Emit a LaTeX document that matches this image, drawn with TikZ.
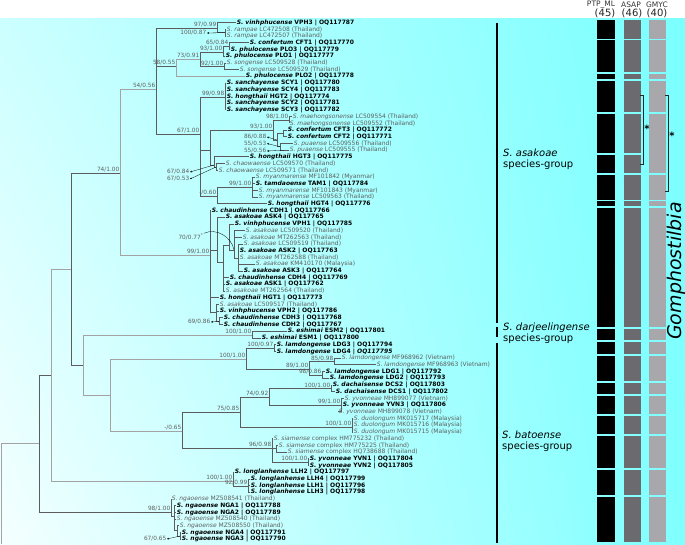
\documentclass[tikz,border=0pt]{standalone}
\usepackage{fontspec}
\setmainfont{DejaVu Sans}
\usetikzlibrary{arrows.meta,shadings}
\definecolor{brdark}{HTML}{5C5C5C}
\definecolor{brlight}{HTML}{A3A3A3}
\definecolor{gbtext}{HTML}{5E5E5E}
\definecolor{ptpcol}{HTML}{000000}
\definecolor{asapcol}{HTML}{6B6B6F}
\definecolor{gmyccol}{HTML}{A8A8AC}

\begin{document}
\begin{tikzpicture}[
    x=1pt, y=-1pt,
    br/.style={draw=brdark, line width=0.9pt},
    lbr/.style={draw=brlight, line width=0.9pt},
    newseq/.style={anchor=west, inner sep=0.6pt, font=\fontsize{6}{7}\selectfont\bfseries, text=black},
    gbank/.style={anchor=west, inner sep=0.6pt, font=\fontsize{6}{7}\selectfont, text=gbtext},
    supp/.style={anchor=south east, inner sep=0.5pt, font=\fontsize{5.8}{6.5}\selectfont, text=gbtext},
    ptr/.style={draw=black, line width=0.3pt, -{Stealth[length=2pt,width=1.8pt]}},
    grp/.style={anchor=west, align=left, inner sep=0pt, font=\fontsize{10}{10.5}\selectfont},
    cbar/.style={draw=black, line width=1.3pt},
    hdr/.style={font=\fontsize{7.5}{8}\selectfont, text=black!80, inner sep=0pt},
    hnum/.style={font=\fontsize{10}{10}\selectfont, text=black!85, inner sep=0pt},
    brk/.style={draw=black!85, line width=0.8pt},
  ]
  \useasboundingbox (0,0) rectangle (685,544);
  \fill[white] (0,0) rectangle (685,18);
  \shade[upper left=cyan!20, upper right=cyan!52, lower left=cyan!4, lower right=cyan!50] (0,18) rectangle (685,544);

  % ------------------------------------------------------------------ header
  \node[hdr] (hptp) at (601,5) {PTP\_ML};
  \node[hdr] (hasap) at (631,5) {ASAP};
  \node[hdr] (hgmyc) at (657,5) {GMYC};
  \node[hnum] (cptp) at (605,13.5) {(45)};
  \node[hnum] (casap) at (632,13.5) {(46)};
  \node[hnum] (cgmyc) at (657,13.5) {(40)};

  % ------------------------------------------------------------------ leaves
  \node[newseq] (l1) at (236,22.7) {\textit{S. vinhphucense} VPH3 | OQ117787};
  \node[gbank] (l2) at (226,29.4) {\textit{S. rampae} LC472508 (Thailand)};
  \node[gbank] (l3) at (226,36.1) {\textit{S. rampae} LC472507 (Thailand)};
  \node[newseq] (l4) at (249,42.8) {\textit{S. confertum} CFT1 | OQ117770};
  \node[newseq] (l5) at (230,49.5) {\textit{S. phulocense} PLO3 | OQ117779};
  \node[newseq] (l6) at (225,56.3) {\textit{S. phulocense} PLO1 | OQ117777};
  \node[gbank] (l7) at (226,63.0) {\textit{S. songense} LC509528 (Thailand)};
  \node[gbank] (l8) at (239,69.7) {\textit{S. songense} LC509529 (Thailand)};
  \node[newseq] (l9) at (245,76.4) {\textit{S. phulocense} PLO2 | OQ117778};
  \node[newseq] (l10) at (226,83.1) {\textit{S. sanchayense} SCY1 | OQ117780};
  \node[newseq] (l11) at (226,89.8) {\textit{S. sanchayense} SCY4 | OQ117783};
  \node[newseq] (l12) at (226,96.5) {\textit{S. hongthaii} HGT2 | OQ117774};
  \node[newseq] (l13) at (226,103.2) {\textit{S. sanchayense} SCY2 | OQ117781};
  \node[newseq] (l14) at (226,109.9) {\textit{S. sanchayense} SCY3 | OQ117782};
  \node[gbank] (l15) at (292,116.6) {\textit{S. maehongsonense} LC509554 (Thailand)};
  \node[gbank] (l16) at (289,123.4) {\textit{S. maehongsonense} LC509552 (Thailand)};
  \node[newseq] (l17) at (287,130.1) {\textit{S. confertum} CFT3 | OQ117772};
  \node[newseq] (l18) at (287,136.8) {\textit{S. confertum} CFT2 | OQ117771};
  \node[gbank] (l19) at (293,143.5) {\textit{S. puaense} LC509556 (Thailand)};
  \node[gbank] (l20) at (289,150.2) {\textit{S. puaense} LC509555 (Thailand)};
  \node[newseq] (l21) at (249,156.9) {\textit{S. hongthaii} HGT3 | OQ117775};
  \node[gbank] (l22) at (225,163.6) {\textit{S. chaowaense} LC509570 (Thailand)};
  \node[gbank] (l23) at (218,170.3) {\textit{S. chaowaense} LC509571 (Thailand)};
  \node[gbank] (l24) at (255,177.0) {\textit{S. myanmarense} MF101842 (Myanmar)};
  \node[newseq] (l25) at (255,183.7) {\textit{S. tamdaoense} TAM1 | OQ117784};
  \node[gbank] (l26) at (258,190.5) {\textit{S. myanmarense} MF101843 (Myanmar)};
  \node[gbank] (l27) at (258,197.2) {\textit{S. myanmarense} LC509563 (Thailand)};
  \node[newseq] (l28) at (267,203.9) {\textit{S. hongthaii} HGT4 | OQ117776};
  \node[newseq] (l29) at (211,210.6) {\textit{S. chaudinhense} CDH1 | OQ117766};
  \node[newseq] (l30) at (225,217.3) {\textit{S. asakoae} ASK4 | OQ117765};
  \node[newseq] (l31) at (234,224.0) {\textit{S. vinhphucense} VPH1 | OQ117785};
  \node[gbank] (l32) at (245,230.7) {\textit{S. asakoae} LC509520 (Thailand)};
  \node[gbank] (l33) at (242,237.4) {\textit{S. asakoae} MT262563 (Thailand)};
  \node[gbank] (l34) at (243,244.1) {\textit{S. asakoae} LC509519 (Thailand)};
  \node[newseq] (l35) at (239,250.8) {\textit{S. asakoae} ASK2 | OQ117763};
  \node[gbank] (l36) at (239,257.6) {\textit{S. asakoae} MT262588 (Thailand)};
  \node[gbank] (l37) at (255,264.3) {\textit{S. asakoae} KM410170 (Malaysia)};
  \node[newseq] (l38) at (243,271.0) {\textit{S. asakoae} ASK3 | OQ117764};
  \node[newseq] (l39) at (229,277.7) {\textit{S. chaudinhense} CDH4 | OQ117769};
  \node[newseq] (l40) at (225,284.4) {\textit{S. asakoae} ASK1 | OQ117762};
  \node[gbank] (l41) at (225,291.1) {\textit{S. asakoae} MT262564 (Thailand)};
  \node[newseq] (l42) at (219,297.8) {\textit{S. hongthaii} HGT1 | OQ117773};
  \node[gbank] (l43) at (219,304.5) {\textit{S. asakoae} LC509517 (Thailand)};
  \node[newseq] (l44) at (219,311.2) {\textit{S. vinhphucense} VPH2 | OQ117786};
  \node[newseq] (l45) at (223,317.9) {\textit{S. chaudinhense} CDH3 | OQ117768};
  \node[newseq] (l46) at (223,324.7) {\textit{S. chaudinhense} CDH2 | OQ117767};
  \node[newseq] (l47) at (287,331.4) {\textit{S. eshimai} ESM2 | OQ117801};
  \node[newseq] (l48) at (261,338.1) {\textit{S. eshimai} ESM1 | OQ117800};
  \node[newseq] (l49) at (276,344.8) {\textit{S. lamdongense} LDG3 | OQ117794};
  \node[newseq] (l50) at (276,351.5) {\textit{S. lamdongense} LDG4 | \textit{OQ117795}};
  \node[gbank] (l51) at (341,358.2) {\textit{S. lamdongense} MF968962 (Vietnam)};
  \node[gbank] (l52) at (376,364.9) {\textit{S. lamdongense} MF968963 (Vietnam)};
  \node[newseq] (l53) at (325,371.6) {\textit{S. lamdongense} LDG1 | OQ117792};
  \node[newseq] (l54) at (329,378.3) {\textit{S. lamdongense} LDG2 | OQ117793};
  \node[newseq] (l55) at (332,385.0) {\textit{S. dachaisense} DCS2 | OQ117803};
  \node[newseq] (l56) at (335,391.8) {\textit{S. dachaisense} DCS1 | OQ117802};
  \node[gbank] (l57) at (344,398.5) {\textit{S. yvonneae} MH899077 (Vietnam)};
  \node[newseq] (l58) at (342,405.2) {\textit{S. yvonneae} YVN3 | OQ117806};
  \node[gbank] (l59) at (338,411.9) {\textit{S. yvonneae} MH899078 (Vietnam)};
  \node[gbank] (l60) at (353,418.6) {\textit{S. duolongum} MK015717 (Malaysia)};
  \node[gbank] (l61) at (353,425.3) {\textit{S. duolongum} MK015716 (Malaysia)};
  \node[gbank] (l62) at (353,432.0) {\textit{S. duolongum} MK015715 (Malaysia)};
  \node[gbank] (l63) at (273,438.7) {\textit{S. siamense} complex HM775232 (Thailand)};
  \node[gbank] (l64) at (278,445.4) {\textit{S. siamense} complex HM775225 (Thailand)};
  \node[gbank] (l65) at (287,452.1) {\textit{S. siamense} complex HQ738688 (Thailand)};
  \node[newseq] (l66) at (309,458.9) {\textit{S. yvonneae} YVN1 | OQ117804};
  \node[newseq] (l67) at (309,465.6) {\textit{S. yvonneae} YVN2 | OQ117805};
  \node[newseq] (l68) at (234,472.3) {\textit{S. longlanhense} LLH2 | OQ117797};
  \node[newseq] (l69) at (250,479.0) {\textit{S. longlanhense} LLH4 | OQ117799};
  \node[newseq] (l70) at (250,485.7) {\textit{S. longlanhense} LLH1 | OQ117796};
  \node[newseq] (l71) at (250,492.4) {\textit{S. longlanhense} LLH3 | OQ117798};
  \node[gbank] (l72) at (171,499.1) {\textit{S. ngaoense} MZ508541 (Thailand)};
  \node[newseq] (l73) at (176,505.8) {\textit{S. ngaoense} NGA1 | OQ117788};
  \node[newseq] (l74) at (176,512.5) {\textit{S. ngaoense} NGA2 | OQ117789};
  \node[gbank] (l75) at (176,519.2) {\textit{S. ngaoense} MZ508540 (Thailand)};
  \node[gbank] (l76) at (179,525.9) {\textit{S. ngaoense} MZ508550 (Thailand)};
  \node[newseq] (l77) at (181,532.7) {\textit{S. ngaoense} NGA4 | OQ117791};
  \node[newseq] (l78) at (181,539.4) {\textit{S. ngaoense} NGA3 | OQ117790};

  % ------------------------------------------------------------ inner nodes
  \coordinate (root) at (1,443);
  \coordinate (rootend) at (1,544);
  \coordinate (nA) at (39,443);
  \coordinate (nB) at (51,375);
  \coordinate (nC) at (71,269);
  \coordinate (nD) at (120,173);
  \coordinate (nE) at (83,365);
  \coordinate (nF) at (156,89);
  \coordinate (nG) at (210,255);
  \coordinate (nF1) at (217,28);
  \coordinate (nRam) at (225,32.7);
  \coordinate (nF2) at (176,66);
  \coordinate (nF2a) at (200,59);
  \coordinate (nF2b) at (223,52);
  \coordinate (nF2d) at (229,46);
  \coordinate (nF2c) at (224,66.3);
  \coordinate (nF3) at (200,134);
  \coordinate (nF3a) at (225,97);
  \coordinate (nF3b) at (210,150);
  \coordinate (n93) at (273,130);
  \coordinate (nMae) at (289,120);
  \coordinate (n86) at (277,140);
  \coordinate (nCFT) at (283,133.5);
  \coordinate (n55) at (280,146.8);
  \coordinate (n84) at (214,165);
  \coordinate (n53) at (216,167);
  \coordinate (nMy) at (217,196);
  \coordinate (n99my) at (252,187);
  \coordinate (g1) at (217,250);
  \coordinate (g2) at (223,262);
  \coordinate (g3) at (229,245);
  \coordinate (g4) at (234,250);
  \coordinate (g5) at (238,258);
  \coordinate (g9) at (216,312);
  \coordinate (g10) at (219,321.3);
  \coordinate (nESM) at (252,335);
  \coordinate (nH) at (110,395);
  \coordinate (nI) at (246,359);
  \coordinate (nL34) at (274,348);
  \coordinate (nO) at (309,369);
  \coordinate (nP) at (334,361.5);
  \coordinate (nQ) at (322,375);
  \coordinate (nJ) at (182,431);
  \coordinate (nK) at (240,412);
  \coordinate (nL) at (269,397);
  \coordinate (nDCS) at (331,388.4);
  \coordinate (nYV) at (341,405);
  \coordinate (nDuo) at (352,427);
  \coordinate (nM) at (272,448);
  \coordinate (nN) at (276,448.7);
  \coordinate (nYVN) at (308,462.2);
  \coordinate (nLLH) at (233,481);
  \coordinate (nLLHi) at (248,486);
  \coordinate (nNGA) at (171,512);
  \coordinate (nNGAi) at (174,516);
  \coordinate (nNGAj) at (177,530);
  \coordinate (nNGAk) at (180,536);

  % ---------------------------------------------------------------- branches
  \draw[lbr] (root) -- (nA);
  \draw[lbr] (root) -- (rootend);
  \foreach \c in {nB,nNGA} \draw[br] (nA) |- (\c);
  \foreach \c in {nC,nLLH} \draw[lbr] (nB) |- (\c);
  \foreach \c in {nD,nE} \draw[br] (nC) |- (\c);
  \foreach \c in {nF,nG} \draw[lbr] (nD) |- (\c);
  \foreach \c in {nF1,nF2,nF3} \draw[br] (nF) |- (\c);
  \foreach \c in {l1.west,nRam} \draw[br] (nF1) |- (\c);
  \foreach \c in {l2.west,l3.west} \draw[br] (nRam) |- (\c);
  \foreach \c in {nF2a,l9.west} \draw[lbr] (nF2) |- (\c);
  \foreach \c in {nF2b,nF2c} \draw[br] (nF2a) |- (\c);
  \foreach \c in {nF2d,l6.west} \draw[br] (nF2b) |- (\c);
  \foreach \c in {l4.west,l5.west} \draw[br] (nF2d) |- (\c);
  \foreach \c in {l7.west,l8.west} \draw[br] (nF2c) |- (\c);
  \foreach \c in {nF3a,nF3b,nMy} \draw[br] (nF3) |- (\c);
  \foreach \c in {l10.west,l11.west,l12.west,l13.west,l14.west} \draw[br] (nF3a) |- (\c);
  \foreach \c in {n93,n84} \draw[br] (nF3b) |- (\c);
  \foreach \c in {nMae,n86} \draw[br] (n93) |- (\c);
  \foreach \c in {l15.west,l16.west} \draw[br] (nMae) |- (\c);
  \foreach \c in {nCFT,n55} \draw[br] (n86) |- (\c);
  \foreach \c in {l17.west,l18.west} \draw[br] (nCFT) |- (\c);
  \foreach \c in {l19.west,l20.west} \draw[br] (n55) |- (\c);
  \foreach \c in {l21.west,n53} \draw[br] (n84) |- (\c);
  \foreach \c in {l22.west,l23.west} \draw[br] (n53) |- (\c);
  \foreach \c in {n99my,l28.west} \draw[br] (nMy) |- (\c);
  \foreach \c in {l24.west,l25.west,l26.west,l27.west} \draw[br] (n99my) |- (\c);
  \foreach \c in {l29.west,g1,l42.west,g9} \draw[br] (nG) |- (\c);
  \foreach \c in {l30.west,g2} \draw[br] (g1) |- (\c);
  \foreach \c in {g3,l39.west,l40.west,l41.west} \draw[br] (g2) |- (\c);
  \foreach \c in {l31.west,g4} \draw[br] (g3) |- (\c);
  \foreach \c in {l32.west,l33.west,g5} \draw[br] (g4) |- (\c);
  \foreach \c in {l34.west,l35.west,l36.west,l37.west,l38.west} \draw[br] (g5) |- (\c);
  \foreach \c in {l43.west,l44.west,g10} \draw[br] (g9) |- (\c);
  \foreach \c in {l45.west,l46.west} \draw[br] (g10) |- (\c);
  \foreach \c in {nESM,nH} \draw[lbr] (nE) |- (\c);
  \foreach \c in {l47.west,l48.west} \draw[br] (nESM) |- (\c);
  \foreach \c in {nI,nJ} \draw[lbr] (nH) |- (\c);
  \foreach \c in {nL34,nO} \draw[br] (nI) |- (\c);
  \foreach \c in {l49.west,l50.west} \draw[br] (nL34) |- (\c);
  \foreach \c in {nP,nQ} \draw[br] (nO) |- (\c);
  \foreach \c in {l51.west,l52.west} \draw[br] (nP) |- (\c);
  \foreach \c in {l53.west,l54.west} \draw[br] (nQ) |- (\c);
  \foreach \c in {nK,nM} \draw[br] (nJ) |- (\c);
  \foreach \c in {nL,nDuo} \draw[br] (nK) |- (\c);
  \foreach \c in {nDCS,nYV} \draw[br] (nL) |- (\c);
  \foreach \c in {l55.west,l56.west} \draw[br] (nDCS) |- (\c);
  \foreach \c in {l57.west,l58.west,l59.west} \draw[br] (nYV) |- (\c);
  \foreach \c in {l60.west,l61.west,l62.west} \draw[br] (nDuo) |- (\c);
  \foreach \c in {l63.west,nN,nYVN} \draw[br] (nM) |- (\c);
  \foreach \c in {l64.west,l65.west} \draw[br] (nN) |- (\c);
  \foreach \c in {l66.west,l67.west} \draw[br] (nYVN) |- (\c);
  \foreach \c in {l68.west,nLLHi} \draw[br] (nLLH) |- (\c);
  \foreach \c in {l69.west,l70.west,l71.west} \draw[br] (nLLHi) |- (\c);
  \foreach \c in {l72.west,nNGAi} \draw[br] (nNGA) |- (\c);
  \foreach \c in {l73.west,l74.west,l75.west,nNGAj} \draw[br] (nNGAi) |- (\c);
  \foreach \c in {l76.west,nNGAk} \draw[br] (nNGAj) |- (\c);
  \foreach \c in {l77.west,l78.west} \draw[br] (nNGAk) |- (\c);

  % ----------------------------------------------------------------- support
  \node[supp] (sD) at (nD) {74/1.00};
  \node[supp] (sF) at (nF) {54/0.56};
  \node[supp] (sF1) at (nF1) {97/0.99};
  \node[supp] (sF2) at (nF2) {58/0.55};
  \node[supp] (sF2a) at (nF2a) {73/0.91};
  \node[supp] (sF2b) at (nF2b) {93/1.00};
  \node[supp] (sF2d) at (nF2d) {65/0.84};
  \node[supp] (sF2c) at (nF2c) {92/1.00};
  \node[supp] (sF3) at (nF3) {67/1.00};
  \node[supp] (sF3a) at (nF3a) {99/0.98};
  \node[supp] (s93) at (n93) {93/1.00};
  \node[supp] (sMae) at (nMae) {98/1.00};
  \node[supp] (sMy) at (nMy) {-/0.60};
  \node[supp] (s99my) at (n99my) {99/1.00};
  \node[supp] (sG) at (nG) {99/1.00};
  \node[supp] (sESM) at (nESM) {100/1.00};
  \node[supp] (sI) at (nI) {100/1.00};
  \node[supp] (sL34) at (nL34) {100/0.97};
  \node[supp] (sO) at (nO) {89/1.00};
  \node[supp] (sP) at (nP) {85/0.98};
  \node[supp] (sQ) at (nQ) {98/0.86};
  \node[supp] (sJ) at (nJ) {-/0.65};
  \node[supp] (sK) at (nK) {75/0.85};
  \node[supp] (sL) at (nL) {74/0.92};
  \node[supp] (sDCS) at (nDCS) {100/1.00};
  \node[supp] (sYV) at (nYV) {99/1.00};
  \node[supp] (sDuo) at (nDuo) {100/1.00};
  \node[supp] (sM) at (nM) {96/0.98};
  \node[supp] (sYVN) at (nYVN) {100/1.00};
  \node[supp] (sLLH) at (nLLH) {100/1.00};
  \node[supp] (sLLHi) at (nLLHi) {92/0.99};
  \node[supp] (sNGA) at (nNGA) {98/1.00};

  % support values with pointers
  \node[supp, anchor=east] (sRam) at (207,33) {100/0.87};
  \node[supp, anchor=east] (s86) at (267,137) {86/0.88};
  \node[supp, anchor=east] (s55a) at (267,143.5) {55/0.53};
  \node[supp, anchor=east] (s55b) at (267,151) {55/0.56};
  \node[supp, anchor=east] (s84) at (190,172) {67/0.84};
  \node[supp, anchor=east] (s53) at (190,179) {67/0.53};
  \node[supp, anchor=east] (s70) at (204,237) {70/0.77\textsuperscript{*}};
  \node[supp, anchor=east] (s69) at (211,322) {69/0.86};
  \node[supp, anchor=east] (s65) at (167,539) {67/0.65};
  \draw[ptr] (nRam) -- (sRam.east);
  \draw[ptr] (n86) -- (s86.east);
  \draw[ptr] (n55) -- (s55a.east);
  \draw[ptr] (l20.west) ++(-5,0) -- (s55b.east);
  \draw[ptr] (n84) -- (s84.east);
  \draw[ptr] (n53) -- (s53.east);
  \draw[draw=black, line width=0.3pt] (s70.north east) to[out=25,in=100] (g4);
  \draw[ptr] (g10) -- (s69.east);
  \draw[ptr] (nNGAk) -- (s65.east);

  % ------------------------------------------------------------ clade groups
  \draw[cbar] (497,23) -- (497,323);
  \draw[cbar] (497,327) -- (497,337);
  \draw[cbar] (497,343) -- (497,543);
  \node[grp] (gasa) at (503,159) {\textit{S. asakoae}\\species-group};
  \node[grp] (gdar) at (503,333) {\textit{S. darjeelingense}\\species-group};
  \node[grp] (gbat) at (502,441) {\textit{S. batoense}\\species-group};

  % ----------------------------------------------------- delimitation bars
  \foreach \a/\b in {1/3,4/8,9/9,10/14,15/20,21/23,24/27,28/28,29/46,47/48,49/50,51/54,55/56,57/59,60/62,63/67,68/71,72/78} {
    \fill[ptpcol] (597,{22.7+6.71*(\a-1)-2.4}) rectangle (615,{22.7+6.71*(\b-1)+2.4});
    \fill[asapcol] (624,{22.7+6.71*(\a-1)-2.4}) rectangle (641,{22.7+6.71*(\b-1)+2.4});
  }
  \foreach \a/\b in {1/3,4/8,9/9,10/14,15/23,24/27,28/28,29/46,47/48,49/50,51/54,55/56,57/59,60/62,63/67,68/71,72/78} {
    \fill[gmyccol] (649,{22.7+6.71*(\a-1)-2.4}) rectangle (666,{22.7+6.71*(\b-1)+2.4});
  }
  \draw[brk] (640,95) -- (643,95) -- (643,164) -- (640,164);
  \node[font=\fontsize{10}{10}\selectfont\bfseries, inner sep=0pt] (asapstar) at (647,129) {*};
  \draw[brk] (665,95) -- (668,95) -- (668,191) -- (665,191);
  \node[font=\fontsize{10}{10}\selectfont\bfseries, inner sep=0pt] (gmycstar) at (672,136) {*};

  \node[rotate=90, inner sep=0pt, font=\fontsize{19}{19}\selectfont\itshape] (genus) at (676,271) {Gomphostilbia};
\end{tikzpicture}
\end{document}
